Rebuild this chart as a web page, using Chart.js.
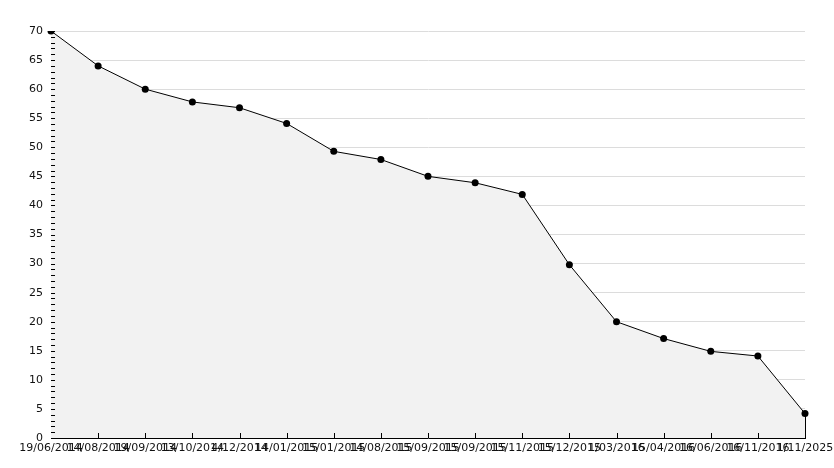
<!DOCTYPE html>
<html>
<head>
<meta charset="utf-8">
<script src="https://cdn.jsdelivr.net/npm/chart.js@4/dist/chart.umd.min.js"></script>
<style>
  html, body { margin: 0; padding: 0; background: #ffffff; }
  #wrap { width: 834px; height: 468px; position: relative; }
</style>
</head>
<body>
<div id="wrap"><canvas id="c" width="834" height="468"></canvas></div>
<script>
const categories = [
  "19/06/2014", "14/08/2014", "19/09/2014", "13/10/2014", "4/12/2014",
  "14/01/2015", "15/01/2015", "14/08/2015", "15/09/2015", "15/09/2015",
  "15/11/2015", "15/12/2015", "1/03/2016", "15/04/2016", "16/06/2016",
  "16/11/2016", "1/11/2025"
];
const values = [70, 64, 60, 57.8, 56.8, 54.1, 49.3, 47.9, 45.0, 43.9, 41.9, 29.8, 20.0, 17.1, 14.9, 14.1, 4.2];
const yMin = 0;
const yMax = 70;
const yStep = 1;
const yLabelEvery = 5;

const FONT = { family: "'DejaVu Sans', sans-serif", size: 11 };

const innerTicks = {
  id: 'innerTicks',
  afterDatasetsDraw(chart) {
    const ctx = chart.ctx;
    const x = chart.scales.x, y = chart.scales.y;
    const area = chart.chartArea;
    ctx.save();
    ctx.strokeStyle = '#000';
    ctx.lineWidth = 1;
    const meta = chart.getDatasetMeta(0);
    const last = meta.data[meta.data.length - 1];
    ctx.beginPath();
    ctx.moveTo(Math.round(last.x) + 0.5, last.y);
    ctx.lineTo(Math.round(last.x) + 0.5, area.bottom);
    ctx.stroke();
    y.ticks.forEach((t, i) => {
      const py = Math.round(y.getPixelForTick(i)) + 0.5;
      ctx.beginPath();
      ctx.moveTo(area.left, py);
      ctx.lineTo(area.left + 4, py);
      ctx.stroke();
    });
    x.ticks.forEach((t, i) => {
      if (i === 0) return;
      const px = Math.round(x.getPixelForTick(i)) + 0.5;
      ctx.beginPath();
      ctx.moveTo(px, area.bottom);
      ctx.lineTo(px, area.bottom - 5);
      ctx.stroke();
    });
    ctx.restore();
  }
};

new Chart(document.getElementById('c'), {
  type: 'line',
  data: {
    labels: categories,
    datasets: [{
      data: values,
      borderColor: '#000',
      borderWidth: 1,
      backgroundColor: '#f2f2f2',
      fill: 'origin',
      tension: 0,
      pointStyle: 'circle',
      pointRadius: 3.5,
      pointBackgroundColor: '#000',
      pointBorderColor: '#000',
      pointBorderWidth: 0
    }]
  },
  options: {
    responsive: false,
    animation: false,
    devicePixelRatio: 1,
    layout: { padding: { left: 0, right: 29, top: 31, bottom: 0 } },
    plugins: { legend: { display: false }, tooltip: { enabled: false } },
    scales: {
      x: {
        type: 'category',
        offset: false,
        grid: { display: false, drawTicks: false },
        border: { display: true, color: '#000', width: 1 },
        ticks: {
          autoSkip: false, maxRotation: 0, minRotation: 0,
          padding: 4, color: '#111', font: FONT
        },
        afterFit(scale) { scale.height = 30; scale.paddingRight = 0; scale.paddingLeft = 0; }
      },
      y: {
        min: yMin, max: yMax,
        grid: {
          drawTicks: false,
          color: (c) => (c.tick && c.tick.value % yLabelEvery === 0 && c.tick.value !== 0) ? '#dcdcdc' : 'rgba(0,0,0,0)',
          lineWidth: 1
        },
        border: { display: true, color: '#000', width: 1 },
        ticks: {
          stepSize: yStep, autoSkip: false, padding: 8, color: '#111', font: FONT,
          callback: (v) => (v % yLabelEvery === 0 ? String(v) : '')
        },
        afterFit(scale) { scale.width = 51; }
      }
    }
  },
  plugins: [innerTicks]
});
</script>
</body>
</html>
